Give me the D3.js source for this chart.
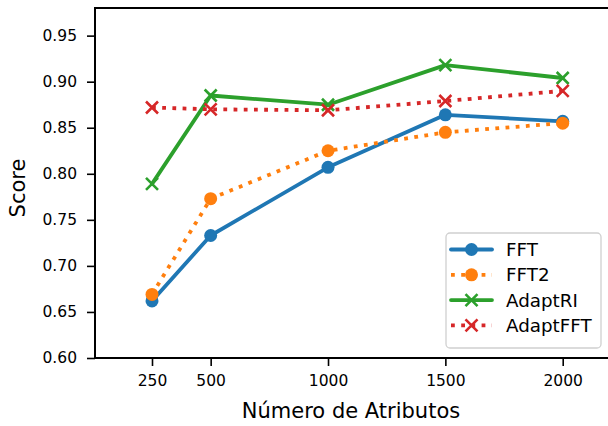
<!DOCTYPE html>
<html lang="en">
<head>
<meta charset="utf-8">
<script src="https://d3js.org/d3.v7.min.js"></script>
<style>
  body { margin: 0; background: #fff; }
  text { font-family: "DejaVu Sans", sans-serif; fill: #000; }
</style>
</head>
<body>
<script>
const W = 608, H = 426

// data
const sizes = [250, 500, 1000, 1500, 2000]
const fft = [0.662, 0.733, 0.807, 0.864, 0.857]
const fft2 = [0.669, 0.773, 0.825, 0.845, 0.855]
const adaptRI = [0.789, 0.885, 0.875, 0.918, 0.904]
const adaptFFT = [0.872, 0.870, 0.869, 0.879, 0.890]
const yTicks = [0.60, 0.65, 0.70, 0.75, 0.80, 0.85, 0.90, 0.95]

const series = [
    {name: "FFT", values: fft, color: "#1f77b4", marker: "o", dotted: false},
    {name: "FFT2", values: fft2, color: "#ff7f0e", marker: "o", dotted: true},
    {name: "AdaptRI", values: adaptRI, color: "#2ca02c", marker: "x", dotted: false},
    {name: "AdaptFFT", values: adaptFFT, color: "#d62728", marker: "x", dotted: true}
]

const axLeft = 95, axTop = 8, axBottom = 358

const svg = d3.select("body").append("svg")
    .attr("width", W)
    .attr("height", H)

// x axis runs past the right edge (figure is cropped)
const x = d3.scaleLinear().domain([250, 2000]).range([152, 562.7])
const y = d3.scaleLinear().domain([0.60, 0.98]).range([axBottom, axTop])

const lw = 3.8

// lines
const line = d3.line().x((d, i) => x(sizes[i])).y(d => y(d))

series.forEach(s => {
    svg.append("path")
        .datum(s.values)
        .attr("d", line)
        .attr("fill", "none")
        .attr("stroke", s.color)
        .attr("stroke-width", lw)
        .attr("stroke-linejoin", "round")
        .attr("stroke-linecap", s.dotted ? "butt" : "round")
        .attr("stroke-dasharray", s.dotted ? "3.8,6.4" : null)

    drawMarkers(svg, s, s.values.map((v, i) => [x(sizes[i]), y(v)]))
})

function drawMarkers(g, s, pts) {
    pts.forEach(p => {
        if (s.marker == "o") {
            g.append("circle")
                .attr("cx", p[0]).attr("cy", p[1]).attr("r", 6.5)
                .attr("fill", s.color)
        } else {
            const r = 6
            g.append("path")
                .attr("d", `M${p[0]-r},${p[1]-r}L${p[0]+r},${p[1]+r}M${p[0]-r},${p[1]+r}L${p[0]+r},${p[1]-r}`)
                .attr("stroke", s.color)
                .attr("stroke-width", 2.6)
                .attr("fill", "none")
        }
    })
}

// spines
svg.append("line").attr("x1", axLeft).attr("x2", axLeft).attr("y1", axTop).attr("y2", axBottom)
    .attr("stroke", "#000").attr("stroke-width", 2).attr("stroke-linecap", "square")
svg.append("line").attr("x1", axLeft).attr("x2", W).attr("y1", axTop).attr("y2", axTop)
    .attr("stroke", "#000").attr("stroke-width", 2).attr("stroke-linecap", "square")
svg.append("line").attr("x1", axLeft).attr("x2", W).attr("y1", axBottom).attr("y2", axBottom)
    .attr("stroke", "#000").attr("stroke-width", 2).attr("stroke-linecap", "square")

// y axis
const yAxis = d3.axisLeft(y).tickValues(yTicks).tickFormat(d3.format(".2f"))
    .tickSize(8).tickPadding(10)
const gy = svg.append("g").attr("transform", `translate(${axLeft},0)`).call(yAxis)
gy.select(".domain").remove()
gy.selectAll("line").attr("stroke-width", 1.6)
gy.selectAll("text").style("font-size", "15.5px")

// x axis
const xAxis = d3.axisBottom(x).tickValues(sizes).tickFormat(d3.format("d"))
    .tickSize(8).tickPadding(9)
const gx = svg.append("g").attr("transform", `translate(0,${axBottom})`).call(xAxis)
gx.select(".domain").remove()
gx.selectAll("line").attr("stroke-width", 1.6)
gx.selectAll("text").style("font-size", "15.5px")

// axis labels
svg.append("text")
    .attr("x", 351).attr("y", 418)
    .attr("text-anchor", "middle")
    .style("font-size", "21px")
    .text("Número de Atributos")

svg.append("text")
    .attr("transform", "translate(25,188) rotate(-90)")
    .attr("text-anchor", "middle")
    .style("font-size", "21px")
    .text("Score")

// legend
const lg = svg.append("g")
lg.append("rect")
    .attr("x", 446).attr("y", 233).attr("width", 155).attr("height", 115)
    .attr("rx", 4)
    .attr("fill", "#fff").attr("fill-opacity", 0.8)
    .attr("stroke", "#d0d0d0").attr("stroke-width", 1.3)

series.forEach((s, i) => {
    const ly = 249.5 + i * 25.3
    lg.append("line")
        .attr("x1", 451).attr("x2", 492).attr("y1", ly).attr("y2", ly)
        .attr("stroke", s.color).attr("stroke-width", lw)
        .attr("stroke-linecap", s.dotted ? "butt" : "round")
        .attr("stroke-dasharray", s.dotted ? "3.8,6.4" : null)
    drawMarkers(lg, s, [[471.5, ly]])
    lg.append("text")
        .attr("x", 506).attr("y", ly + 6.5)
        .style("font-size", "18.3px")
        .text(s.name)
})
</script>
</body>
</html>
